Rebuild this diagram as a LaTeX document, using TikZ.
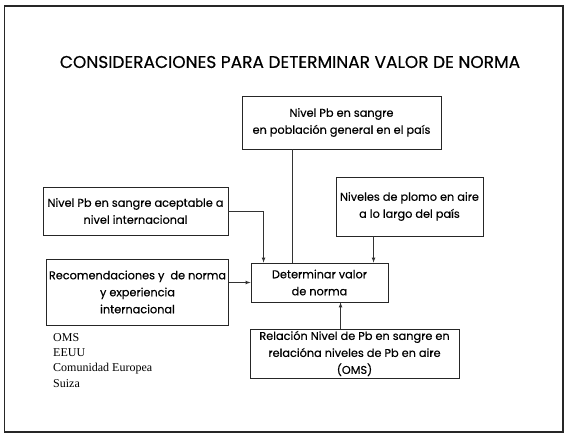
\documentclass[tikz,border=0pt]{standalone}
\usepackage{fontspec}
\setmainfont{Poppins}[FakeBold=0.4]
\newfontfamily\listfont{Liberation Serif}
\begin{document}
\begin{tikzpicture}
    [
    x=1pt,y=-1pt,
    caja/.style={rectangle,draw=black!85,line width=0.9pt,inner sep=2pt,align=center,font=\fontsize{11.3}{17}\selectfont},
    flecha/.style={draw=black!80,line width=0.7pt}
    ]
    \useasboundingbox (0,0) rectangle (566,434);
    \draw [black!85,line width=1.6pt] (4.5,6) rectangle (563,432);
    \node (titulo) at (290,62) {\fontsize{17}{19}\selectfont CONSIDERACIONES PARA DETERMINAR VALOR DE NORMA};
    \node (pob) at (341.5,122.5) [caja,minimum width=199,minimum height=53] {Nivel Pb en sangre\\en población general en el país};
    \node (intl) at (135.5,211) [caja,minimum width=185,minimum height=48] {Nivel Pb en sangre aceptable a\\nivel internacional};
    \node (aire) at (409.5,206.5) [caja,minimum width=147,minimum height=59] {Niveles de plomo en aire\\a lo largo del país};
    \node (rec) at (137.5,292) [caja,minimum width=181,minimum height=66] {Recomendaciones y\ \ de norma\\y experiencia\\internacional};
    \node (det) at (319.5,282.5) [caja,minimum width=137,minimum height=39] {Determinar valor\\de norma};
    \node (rel) at (354.5,353.5) [caja,minimum width=209,minimum height=49] {Relación Nivel de Pb en sangre en\\relacióna niveles de Pb en aire\\(OMS)};
    \node (paises) at (53,333) [anchor=north west,inner sep=0pt,align=left,font=\listfont\fontsize{12}{15.3}\selectfont] {OMS\\EEUU\\Comunidad Europea\\Suiza};
    \draw [flecha,-latex] (intl.east) -| ([xshift=13]det.north west);
    \draw [flecha] ([xshift=51]pob.south west) -- ([xshift=51]pob.south west |- det.north);
    \draw [flecha,-latex] ([xshift=38]aire.south west) -- ([xshift=38]aire.south west |- det.north);
    \draw [flecha,-latex] (rec.east |- det.west) -- (det.west);
    \draw [flecha,-latex] ([xshift=91]rel.north west) -- ([xshift=91]rel.north west |- det.south);
  \end{tikzpicture}
\end{document}
